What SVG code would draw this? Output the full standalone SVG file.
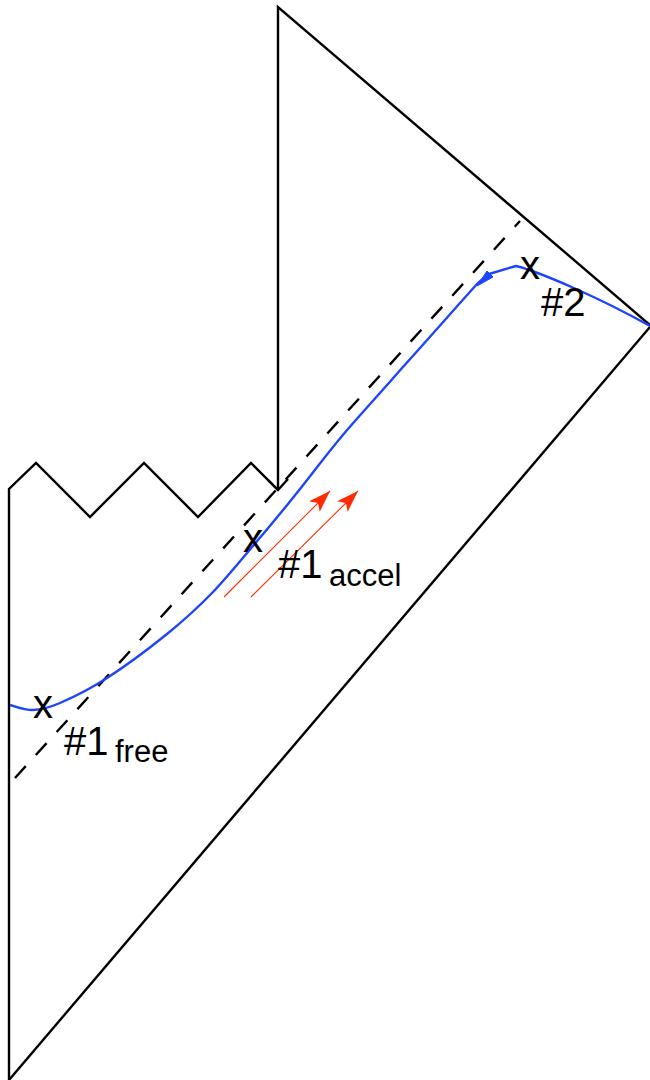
<svg xmlns="http://www.w3.org/2000/svg" width="650" height="1080" viewBox="0 0 650 1080">
<style>
.frame{fill:none;stroke:#000;stroke-width:2.4;stroke-linejoin:miter}
.dash{fill:none;stroke:#000;stroke-width:2.4;stroke-dasharray:16 15}
.world{fill:none;stroke:#1f45fc;stroke-width:2.4;stroke-linejoin:round}
.red{fill:none;stroke:#ff2a00;stroke-width:1.1}
.lbl{font-family:"Liberation Sans",Arial,sans-serif;fill:#000}
</style>
<defs>
<marker id="redhead" viewBox="0 0 22 15" refX="22" refY="7.5" markerWidth="22" markerHeight="15" markerUnits="userSpaceOnUse" orient="auto">
<path d="M0,0 L22,7.5 L0,15 L5,7.5 z" fill="#ff2a00"/>
</marker>
</defs>
<rect width="650" height="1080" fill="#fff"/>
<g id="boundary">
<path class="frame" d="M9,1080 L9,489 L36,463 L90,517 L144,463 L198,517 L251,463 L278,490"/>
<path class="frame" d="M278,490 L278,7 L650,325"/>
<path class="frame" d="M650,327 L9,1080"/>
<path class="frame" d="M268,480 L278,490 L288,479"/>
</g>
<g id="horizon">
<path class="dash" d="M15,778 L520,221"/>
</g>
<g id="worldline">
<path class="world" d="M10,705 C13.8,705.8 24.7,710.3 33,710 C41.3,709.7 47.7,708.3 60,703 C72.3,697.7 89.2,689.5 107,678 C124.8,666.5 149.3,648.3 167,634 C184.7,619.7 197.8,607.7 213,592 C228.2,576.3 244.8,555.3 258,540 C271.2,524.7 279,515 292,499 C310,477 328,452 348,429 C368,406 383,390 402,368 C424,344 463.2,299 478,283 L489,274 L516,266 C540,272 600,298 650,326"/>
<path d="M477,286 L487,271 L493,277 z" fill="#1f45fc" stroke="#1f45fc" stroke-width="1"/>
</g>
<g id="connectors">
<line class="red" x1="224" y1="597" x2="330" y2="491" marker-end="url(#redhead)"/>
<line class="red" x1="251" y1="597" x2="358" y2="491" marker-end="url(#redhead)"/>
</g>
<g id="event-1free">
<text class="lbl" x="43" y="718" font-size="40" text-anchor="middle">x</text>
<text class="lbl" x="64" y="755" font-size="40">#1<tspan x="115" y="762" font-size="31">free</tspan></text>
</g>
<g id="event-1accel">
<text class="lbl" x="253" y="552" font-size="40" text-anchor="middle">x</text>
<text class="lbl" x="278" y="578" font-size="40">#1<tspan x="329" y="586" font-size="31">accel</tspan></text>
</g>
<g id="event-2">
<text class="lbl" x="530" y="279" font-size="40" text-anchor="middle">x</text>
<text class="lbl" x="541" y="316" font-size="40">#2</text>
</g>
</svg>
